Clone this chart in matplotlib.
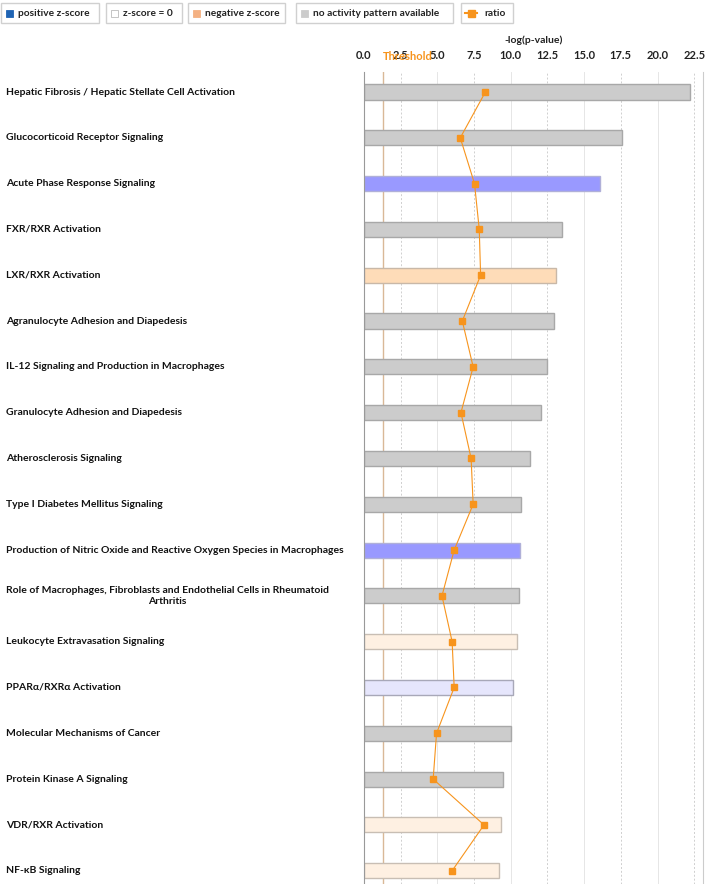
import matplotlib
matplotlib.use('Agg')
import matplotlib.pyplot as plt
from matplotlib.patches import Rectangle
from matplotlib.lines import Line2D
import matplotlib.transforms as mtransforms

plt.rcParams['font.family'] = ['Lato', 'DejaVu Sans']

pathways = [
    "Hepatic Fibrosis / Hepatic Stellate Cell Activation",
    "Glucocorticoid Receptor Signaling",
    "Acute Phase Response Signaling",
    "FXR/RXR Activation",
    "LXR/RXR Activation",
    "Agranulocyte Adhesion and Diapedesis",
    "IL-12 Signaling and Production in Macrophages",
    "Granulocyte Adhesion and Diapedesis",
    "Atherosclerosis Signaling",
    "Type I Diabetes Mellitus Signaling",
    "Production of Nitric Oxide and Reactive Oxygen Species in Macrophages",
    "Role of Macrophages, Fibroblasts and Endothelial Cells in Rheumatoid\nArthritis",
    "Leukocyte Extravasation Signaling",
    "PPAR\u03b1/RXR\u03b1 Activation",
    "Molecular Mechanisms of Cancer",
    "Protein Kinase A Signaling",
    "VDR/RXR Activation",
    "NF-\u03baB Signaling",
]
neg_log_p = [22.2, 17.57, 16.1, 13.5, 13.05, 12.98, 12.45, 12.07, 11.32, 10.7,
             10.65, 10.55, 10.45, 10.18, 10.04, 9.45, 9.34, 9.18]
# None = no activity pattern available
zscore = [None, None, 2.4, None, -1.8, None, None, None, None, None,
          2.2, None, -0.4, 0.4, None, None, -0.4, -0.4]
ratio = [0.179, 0.142, 0.163, 0.170, 0.172, 0.145, 0.161, 0.143, 0.158, 0.161,
         0.133, 0.115, 0.130, 0.133, 0.107, 0.102, 0.177, 0.130]
threshold = 1.3
xticks = [0.0, 2.5, 5.0, 7.5, 10.0, 12.5, 15.0, 17.5, 20.0, 22.5]

W, H = 709, 884


def zcolor(z):
    if z is None:
        return '#cccccc', '#a8a8a8'
    if z >= 1:
        return '#9999ff', '#b0b0d8'
    if z > 0:
        return '#e6e6fc', '#a8a8b8'
    if z <= -1:
        return '#fedcb8', '#c8b8a8'
    return '#fef0e2', '#c8beb4'


fig = plt.figure(figsize=(W / 100, H / 100), dpi=100)
ax = fig.add_axes([364 / W, 0, (703 - 364) / W, 1 - 72 / H])

# ratio on a hidden secondary axis (created first so ax keeps its top ticks)
ax2 = ax.twiny()
ax2.set_xlim(0, 0.5)
ax2.set_xticks([])
for s in ax2.spines.values():
    s.set_visible(False)

n = len(pathways)
ypos = list(range(n))
for y, v, z in zip(ypos, neg_log_p, zscore):
    fc, ec = zcolor(z)
    ax.barh(y, v, height=0.33, color=fc, edgecolor=ec, linewidth=1.0, zorder=2)

ax2.plot(ratio, ypos, color='#f7941d', lw=0.8, marker='s', markersize=5,
         markerfacecolor='#f7941d', markeredgecolor='#f7941d', zorder=4)

ax.set_xlim(0, 23.1)
ax.set_ylim(17.29, -0.437)
ax2.set_ylim(17.29, -0.437)
ax.xaxis.tick_top()
ax.xaxis.set_label_position('top')
ax.set_xticks(xticks)
ax.set_xticklabels([f'{t:.1f}' for t in xticks], fontsize=8, fontweight='bold', color='#222222')
ax.tick_params(axis='x', which='both', length=0, pad=8, top=True, bottom=False,
               labeltop=True, labelbottom=False)
ax.set_xlabel('-log(p-value)', fontsize=7.5, fontweight='bold', labelpad=5, color='#222222')
ax.set_yticks([])
for t in xticks[1:]:
    major = abs((t / 5.0) - round(t / 5.0)) < 1e-6
    ax.axvline(t, color='#e6e6e6' if major else '#cfcfcf', lw=0.7,
               ls='-' if major else (0, (2, 2)), zorder=0)
for s in ['top', 'bottom']:
    ax.spines[s].set_visible(False)
ax.spines['left'].set_color('#999999')
ax.spines['right'].set_color('#cccccc')

ax.axvline(threshold, color='#d9b897', lw=1.0, zorder=1)
ax.text(threshold, 1.012, 'Threshold', transform=ax.get_xaxis_transform(),
        ha='left', va='bottom', fontsize=8, fontweight='bold', color='#f7941d')

trans = mtransforms.blended_transform_factory(fig.transFigure, ax.transData)
for y, name in zip(ypos, pathways):
    ax.text(6 / W, y, name, transform=trans, ha='left', va='center',
            multialignment='center', fontsize=7.5, fontweight='bold', color='#111111')


# legend boxes along the top
def fx(x):
    return x / W


def fy(y):
    return 1 - y / H


legend_items = [
    (0, 98, 'positive z-score', 'sq', '#1f64b4'),
    (105, 181, 'z-score = 0', 'sq', 'white'),
    (187, 284, 'negative z-score', 'sq', '#f4b183'),
    (295, 452, 'no activity pattern available', 'sq', '#cccccc'),
    (460, 512, 'ratio', 'line', '#f7941d'),
]
for x0, x1, label, kind, col in legend_items:
    fig.add_artist(Rectangle((fx(x0 + 1), fy(23)), fx(x1 - x0), 20 / H,
                             transform=fig.transFigure, fc='white', ec='#d0d0d0', lw=1.0))
    if kind == 'sq':
        fig.add_artist(Rectangle((fx(x0 + 6), fy(17)), 7 / W, 7 / H,
                                 transform=fig.transFigure, fc=col,
                                 ec='#bbbbbb' if col == 'white' else col, lw=0.6))
        tx = x0 + 18
    else:
        fig.add_artist(Line2D([fx(x0 + 5), fx(x0 + 17)], [fy(13), fy(13)],
                              transform=fig.transFigure, color=col, lw=1.5))
        fig.add_artist(Rectangle((fx(x0 + 8), fy(17)), 7 / W, 7 / H,
                                 transform=fig.transFigure, fc=col, ec=col))
        tx = x0 + 24
    fig.text(fx(tx), fy(13), label, ha='left', va='center', fontsize=7.3,
             fontweight='bold', color='#222222')

fig.savefig('out.png', dpi=100)
